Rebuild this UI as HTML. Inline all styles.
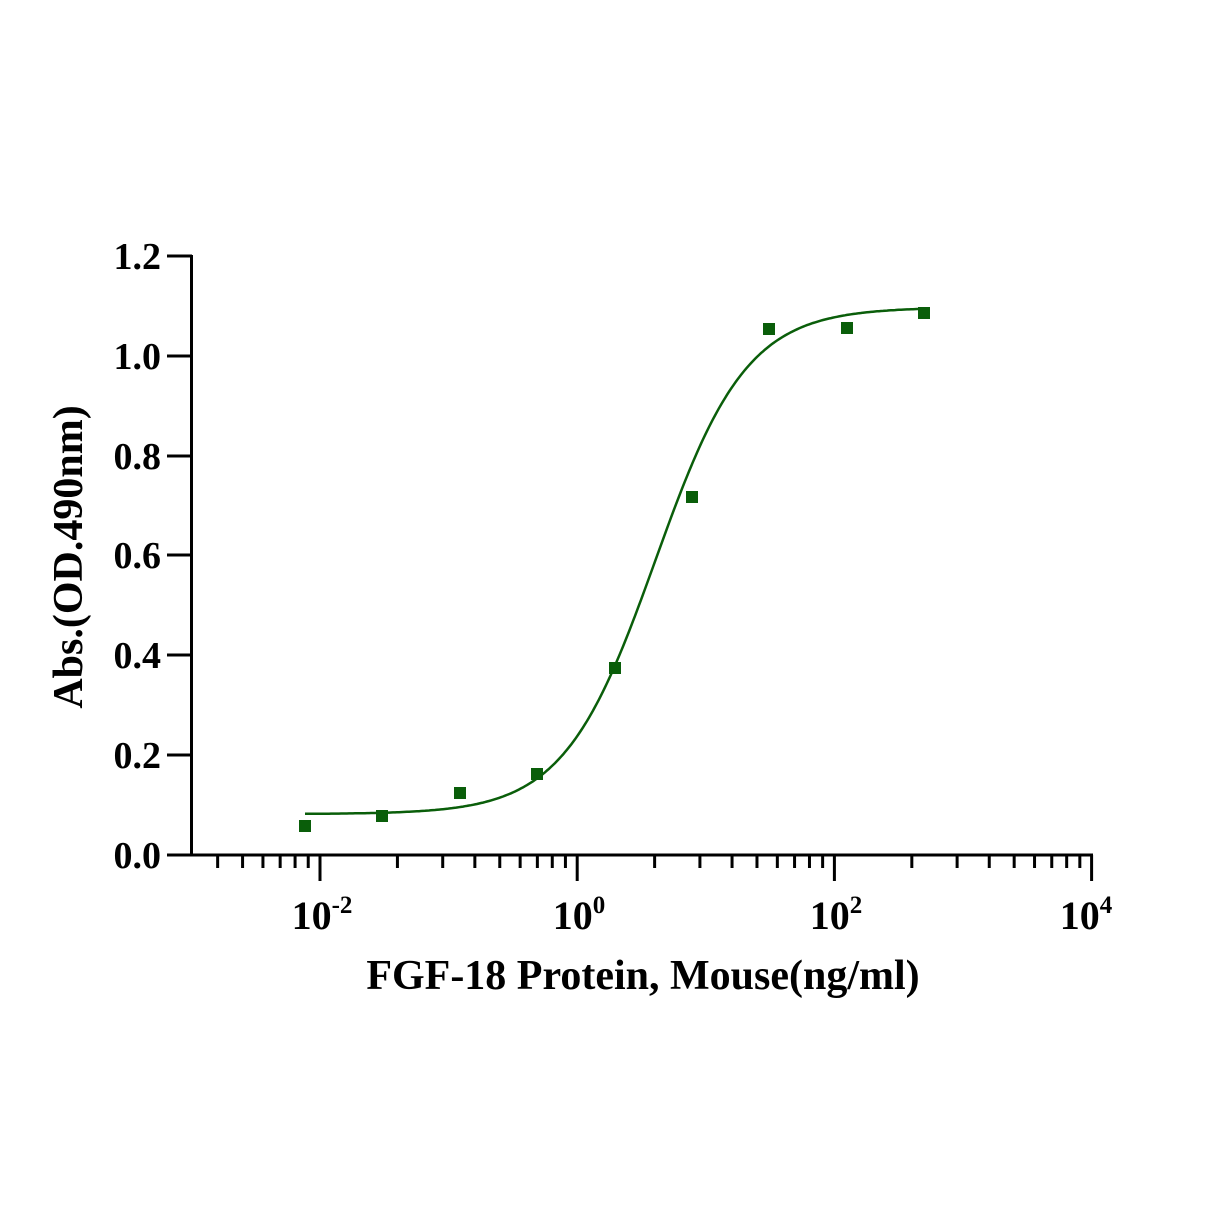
<!DOCTYPE html>
<html><head><meta charset="utf-8"><style>
html,body{margin:0;padding:0;background:#fff;}
svg text{font-family:"Liberation Serif",serif;font-weight:bold;fill:#000;}
</style></head><body>
<svg width="1217" height="1217" viewBox="0 0 1217 1217" xmlns="http://www.w3.org/2000/svg">
<rect width="1217" height="1217" fill="#fff"/>
<g stroke="#000" stroke-width="3" fill="none">
<line x1="191.5" y1="255" x2="191.5" y2="856"/>
<line x1="167" y1="855" x2="1093" y2="855"/>
<line x1="167" y1="256" x2="192" y2="256"/>
<line x1="167" y1="356" x2="192" y2="356"/>
<line x1="167" y1="456" x2="192" y2="456"/>
<line x1="167" y1="555" x2="192" y2="555"/>
<line x1="167" y1="655" x2="192" y2="655"/>
<line x1="167" y1="755" x2="192" y2="755"/>
<g id="ticks"></g>
</g>
<g font-size="38" text-anchor="end">
<text x="161" y="269">1.2</text>
<text x="161" y="369">1.0</text>
<text x="161" y="469">0.8</text>
<text x="161" y="568">0.6</text>
<text x="161" y="668">0.4</text>
<text x="161" y="768">0.2</text>
<text x="161" y="868">0.0</text>
</g>
<g font-size="40" text-anchor="middle">
<text x="322" y="929">10<tspan font-size="25" dy="-16">-2</tspan></text>
<text x="579" y="929">10<tspan font-size="25" dy="-16">0</tspan></text>
<text x="836" y="929">10<tspan font-size="25" dy="-16">2</tspan></text>
<text x="1086" y="929">10<tspan font-size="25" dy="-16">4</tspan></text>
</g>
<text x="643" y="989" font-size="42" text-anchor="middle">FGF-18 Protein, Mouse(ng/ml)</text>
<text transform="translate(82,557) rotate(-90)" font-size="42" text-anchor="middle">Abs.(OD.490nm)</text>
<path id="curve" fill="none" stroke="#0a5e0a" stroke-width="2.5"/>
<g fill="#0a5e0a" id="pts"></g>
</svg>
<script>
var ns="http://www.w3.org/2000/svg";
var t=document.getElementById("ticks");
function ln(x,y2){var l=document.createElementNS(ns,"line");l.setAttribute("x1",x);l.setAttribute("x2",x);l.setAttribute("y1",855);l.setAttribute("y2",y2);t.appendChild(l);}
var M=257.2, x0=320;
for(var k=4;k<=9;k++)ln(x0-M+Math.log10(k)*M,868);
for(var d=0;d<=3;d++){var b=x0+d*M;ln(b,881);
 if(d<3)for(var k=2;k<=9;k++)ln(b+Math.log10(k)*M,868);}
var sc=M/2;
function Y(v){return 855-v*499.2;}
var p="";
for(var x=305;x<=924;x+=2){var lg=(x-x0)/sc-2;var v=0.082+1.015/(1+Math.pow(10,1.22*(0.607-lg)));p+=(x==305?"M":"L")+x+","+Y(v).toFixed(1);}
document.getElementById("curve").setAttribute("d",p);
var pts=[[305,826],[382,816],[460,793],[537,774],[615,668],[692,497],[769,329],[847,328],[924,313]];
var g=document.getElementById("pts");
pts.forEach(function(q){var r=document.createElementNS(ns,"rect");r.setAttribute("x",q[0]-6);r.setAttribute("y",q[1]-6);r.setAttribute("width",12);r.setAttribute("height",12);g.appendChild(r);});
</script>
</body></html>
